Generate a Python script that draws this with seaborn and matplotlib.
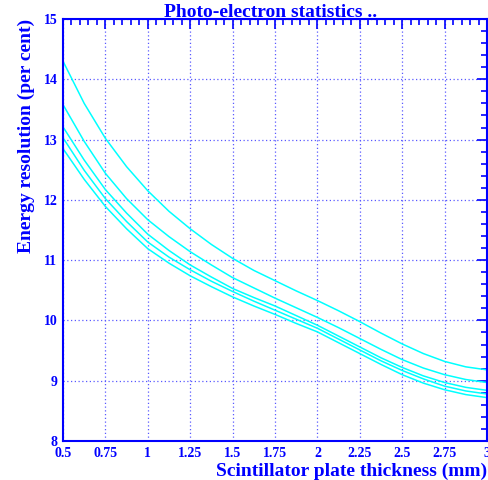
import matplotlib
matplotlib.use("Agg")
import matplotlib.pyplot as plt
import seaborn as sns
import pandas as pd
from matplotlib.ticker import MultipleLocator

# plate thickness (mm) and resolution curves
thickness = [0.5, 0.625, 0.75, 0.875, 1.0, 1.125, 1.25, 1.375, 1.5, 1.625, 1.75,
             1.875, 2.0, 2.125, 2.25, 2.375, 2.5, 2.625, 2.75, 2.875, 3.0]
curve1 = [14.30, 13.60, 13.02, 12.55, 12.15, 11.81, 11.52, 11.26, 11.03, 10.83, 10.66,
          10.49, 10.33, 10.16, 9.98, 9.79, 9.61, 9.45, 9.32, 9.23, 9.18]
curve2 = [13.58, 12.97, 12.44, 12.02, 11.67, 11.39, 11.14, 10.92, 10.71, 10.54, 10.37,
          10.21, 10.05, 9.88, 9.70, 9.52, 9.35, 9.21, 9.10, 9.02, 8.97]
curve3 = [13.21, 12.66, 12.17, 11.78, 11.43, 11.16, 10.92, 10.72, 10.53, 10.38, 10.24,
          10.08, 9.92, 9.74, 9.56, 9.38, 9.22, 9.08, 8.97, 8.89, 8.84]
curve4 = [13.03, 12.49, 12.02, 11.64, 11.30, 11.05, 10.84, 10.65, 10.48, 10.32, 10.17,
          10.02, 9.87, 9.69, 9.51, 9.33, 9.17, 9.03, 8.91, 8.83, 8.78]
curve5 = [12.85, 12.34, 11.89, 11.52, 11.19, 10.95, 10.74, 10.56, 10.39, 10.24, 10.10,
          9.95, 9.81, 9.63, 9.45, 9.27, 9.10, 8.96, 8.85, 8.77, 8.72]

x_ticks = [0.5, 0.75, 1, 1.25, 1.5, 1.75, 2, 2.25, 2.5, 2.75, 3]
x_labels = ["0.5", "0.75", "1", "1.25", "1.5", "1.75", "2", "2.25", "2.5", "2.75", "3"]
y_ticks = [8, 9, 10, 11, 12, 13, 14, 15]

rows = []
for name, vals in [("c1", curve1), ("c2", curve2), ("c3", curve3), ("c4", curve4), ("c5", curve5)]:
    for t, v in zip(thickness, vals):
        rows.append({"thickness": t, "resolution": v, "curve": name})
df = pd.DataFrame(rows)

sns.set_style("white")
plt.rcParams["font.family"] = ["Liberation Serif", "DejaVu Serif"]
plt.rcParams["font.weight"] = "bold"

blue = "#0000ff"
fig = plt.figure(figsize=(4.88, 4.8), dpi=100)
ax = fig.add_axes([63 / 488, 39 / 480, 424 / 488, 422 / 480])

sns.lineplot(data=df, x="thickness", y="resolution", hue="curve",
             palette=["#00ffff"] * 5, linewidth=1.1, legend=False, ax=ax)

ax.set_xlim(0.5, 3)
ax.set_ylim(8, 15)
ax.set_xticks(x_ticks)
ax.set_xticklabels(x_labels)
ax.set_yticks(y_ticks)
ax.xaxis.set_minor_locator(MultipleLocator(0.05))
ax.yaxis.set_minor_locator(MultipleLocator(0.2))
ax.tick_params(which="both", direction="in", top=True, right=True, colors=blue,
               labelcolor=blue, width=1.2)
ax.tick_params(which="major", length=7, labelsize=10, pad=4)
ax.tick_params(which="minor", length=4)
for lab in ax.get_xticklabels() + ax.get_yticklabels():
    lab.set_fontweight("bold")

for s in ax.spines.values():
    s.set_color(blue)
    s.set_linewidth(1.5)

ax.grid(True, which="major", color="#5a5aff", linestyle=(0, (1, 2)), linewidth=0.9)

ax.set_xlabel("Scintillator plate thickness (mm)", color=blue, fontsize=14,
              fontweight="bold", loc="right", labelpad=2)
ax.set_ylabel("Energy resolution (per cent)", color=blue, fontsize=14,
              fontweight="bold", loc="top", labelpad=6)
fig.text(0.555, 0.974, "Photo-electron statistics ..", color=blue, fontsize=14,
         fontweight="bold", ha="center", va="center")

fig.savefig("out.png", dpi=100)
